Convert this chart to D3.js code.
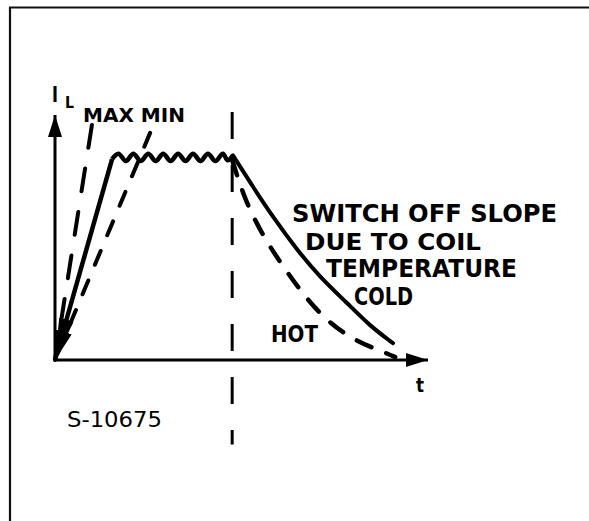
<!DOCTYPE html>
<html>
<head>
<meta charset="utf-8">
<script src="https://cdn.jsdelivr.net/npm/d3@7"></script>
<style>
  html, body { margin: 0; padding: 0; background: #fff; }
  svg { display: block; }
  text { font-family: "DejaVu Sans", sans-serif; fill: #000; }
</style>
</head>
<body>
<svg id="chart" width="589" height="521"></svg>
<script>
// ---- data (t = time units, I = current units) ----
const axisExtent = { t: [0, 10], I: [0, 10] };
const maxSlope = [[0, 0], [0.99, 9.59]];
const minSlope = [[0, 0], [2.55, 9.27]];
const riseSolid = [[0, 0], [1.53, 8.2]];
const plateau = [
  [1.53, 8.2], [1.70, 8.42], [1.90, 8.12], [2.10, 8.42], [2.30, 8.12],
  [2.50, 8.42], [2.70, 8.12], [2.90, 8.42], [3.10, 8.12], [3.30, 8.42],
  [3.50, 8.12], [3.70, 8.42], [3.90, 8.12], [4.10, 8.42], [4.30, 8.12],
  [4.50, 8.42], [4.63, 8.15], [4.77, 8.35]
];
const coldDecay = [
  [4.77, 8.35], [5.31, 7.06], [5.84, 5.84], [6.49, 4.49], [7.10, 3.39],
  [7.83, 2.33], [8.45, 1.38], [9.06, 0.69]
];
const hotDecay = [
  [4.75, 8.16], [5.09, 6.53], [5.55, 5.14], [6.03, 4.0], [6.70, 2.57],
  [7.32, 1.55], [8.04, 0.78], [8.87, 0.29], [9.12, 0.12]
];
const switchOffLine = [[4.75, 10.12], [4.75, -3.45]];
const labelsSlope = ["SWITCH OFF SLOPE", "DUE TO COIL", "TEMPERATURE"];
const labelCold = "COLD";
const labelHot = "HOT";
const labelMaxMin = "MAX MIN";
const labelRef = "S-10675";

// ---- drawing ----
const svg = d3.select("#chart");
const x = d3.scaleLinear().domain(axisExtent.t).range([55, 428]);
const y = d3.scaleLinear().domain(axisExtent.I).range([360, 115]);

// frame
svg.append("path").attr("d", "M9,7.5 H589 M10,7 V521")
  .attr("stroke", "#111").attr("stroke-width", 2.2).attr("fill", "none");

const defs = svg.append("defs");
function marker(id, w, h) {
  defs.append("marker").attr("id", id)
    .attr("viewBox", "0 0 10 10").attr("refX", 10).attr("refY", 5)
    .attr("markerUnits", "userSpaceOnUse")
    .attr("markerWidth", w).attr("markerHeight", h)
    .attr("orient", "auto-start-reverse")
    .attr("preserveAspectRatio", "none")
    .append("path").attr("d", "M0,0 L10,5 L0,10 Z").attr("fill", "#000");
}
marker("axisArrow", 22, 14);
marker("bigArrow", 42, 15);
marker("smallArrow", 30, 11);

const line = d3.line().x(d => x(d[0])).y(d => y(d[1]));
const smooth = d3.line().x(d => x(d[0])).y(d => y(d[1])).curve(d3.curveBasis);

// axes
svg.append("path").attr("d", line([[0, 0], [0, 10]]))
  .attr("stroke", "#000").attr("stroke-width", 3).attr("fill", "none")
  .attr("marker-end", "url(#axisArrow)");
svg.append("path").attr("d", line([[0, 0], [10, 0]]))
  .attr("stroke", "#000").attr("stroke-width", 3).attr("fill", "none")
  .attr("marker-end", "url(#axisArrow)");

// switch-off vertical dashed line
svg.append("path").attr("d", line(switchOffLine))
  .attr("stroke", "#000").attr("stroke-width", 3).attr("fill", "none")
  .attr("stroke-dasharray", "27,26");

// MAX / MIN dashed slopes (drawn from top toward origin to keep arrow at origin)
svg.append("path").attr("d", line(maxSlope.slice().reverse()))
  .attr("stroke", "#000").attr("stroke-width", 4).attr("fill", "none")
  .attr("stroke-dasharray", "23,21").attr("stroke-linecap", "round")
  .attr("marker-end", "url(#smallArrow)");
svg.append("path").attr("d", line(minSlope.slice().reverse()))
  .attr("stroke", "#000").attr("stroke-width", 4).attr("fill", "none")
  .attr("stroke-dasharray", "15,17").attr("stroke-linecap", "round")
  .attr("marker-end", "url(#smallArrow)");

// solid rise with arrow at origin
svg.append("path").attr("d", line(riseSolid))
  .attr("stroke", "#000").attr("stroke-width", 4.5).attr("fill", "none")
  .attr("marker-start", "url(#bigArrow)");

// plateau ripple
svg.append("path").attr("d", d3.line().x(d => x(d[0])).y(d => y(d[1])).curve(d3.curveCatmullRom)(plateau))
  .attr("stroke", "#000").attr("stroke-width", 4.5).attr("fill", "none")
  .attr("stroke-linejoin", "round");

// cold decay solid
svg.append("path").attr("d", smooth(coldDecay))
  .attr("stroke", "#000").attr("stroke-width", 4).attr("fill", "none")
  .attr("stroke-linecap", "round");

// hot decay dashed
svg.append("path").attr("d", smooth(hotDecay))
  .attr("stroke", "#000").attr("stroke-width", 4.5).attr("fill", "none")
  .attr("stroke-dasharray", "16,16").attr("stroke-linecap", "round");

// labels
function label(txt, px, py, size, len, weight) {
  svg.append("text").attr("x", px).attr("y", py)
    .attr("font-size", size).attr("font-weight", weight || "bold")
    .attr("textLength", len).attr("lengthAdjust", "spacingAndGlyphs")
    .text(txt);
}
label("I", 52, 102, 21, 6);
label("L", 65, 108, 15, 9);
label(labelMaxMin, 83, 122, 19, 102);
label(labelsSlope[0], 292, 222, 24, 265);
label(labelsSlope[1], 305, 250, 23, 176);
label(labelsSlope[2], 326, 277, 24, 191);
label(labelCold, 354, 305, 24, 59);
label(labelHot, 271, 342, 23, 47);
label("t", 416, 392, 19, 8);
label(labelRef, 67, 427, 21, 95, "normal");
</script>
</body>
</html>
